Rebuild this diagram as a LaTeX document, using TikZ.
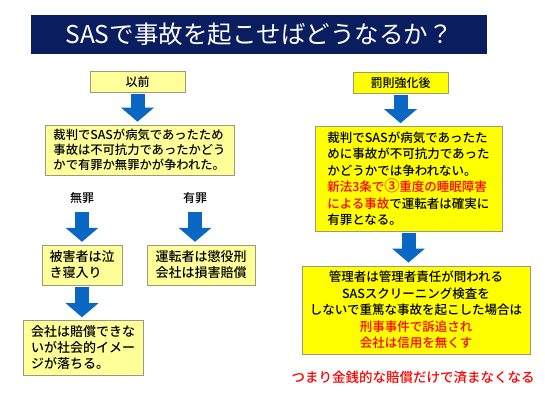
\documentclass[tikz,border=0pt]{standalone}
\usepackage{fontspec}
\setmainfont{Noto Sans CJK JP}[BoldFont={Noto Sans CJK JP Medium}]
\usepackage{xcolor}
\usepackage{tikz}
\usetikzlibrary{arrows.meta,positioning}

\definecolor{navybar}{HTML}{0A1E5F}
\definecolor{paleyel}{HTML}{FFFF99}
\definecolor{brightyel}{HTML}{FFFF00}
\definecolor{flowblue}{HTML}{0A68C4}
\definecolor{boxline}{HTML}{9A9A80}

\begin{document}
\begin{tikzpicture}[
    x=1pt, y=1pt,
    titlebar/.style={fill=navybar, text=white, minimum width=456pt, minimum height=39pt, font=\fontsize{24.5}{28}\selectfont},
    header/.style={draw=boxline, minimum width=95pt, minimum height=21pt, inner sep=1pt, font=\fontsize{12}{14}\selectfont\bfseries},
    pale/.style={draw=boxline, fill=paleyel, align=left, inner sep=2pt, font=\fontsize{13}{16}\selectfont\bfseries},
    bright/.style={draw=boxline, fill=brightyel, inner sep=2pt, font=\fontsize{12.5}{16.5}\selectfont\bfseries},
    verdict/.style={inner sep=1pt, font=\fontsize{12}{14}\selectfont\bfseries},
    bigarrow/.style={draw=flowblue, line width=14pt, -{Triangle[length=14pt, width=32pt]}, shorten <=1.5pt, shorten >=3pt}
  ]
    \useasboundingbox (0,0) rectangle (545,-408);
    \node[titlebar] (title) at (259,-34.5) {SASで事故を起こせばどうなるか？};

    % left: before
    \node[header, fill=paleyel] (before) at (137.5,-82) {以前};
    \node[pale, below=32pt of before, xshift=2pt, minimum width=189pt, minimum height=50pt,
          font=\fontsize{12.3}{15}\selectfont\bfseries] (trial)
      {裁判でSASが病気であったため\\事故は不可抗力であったかどう\\かで有罪か無罪かが争われた。};
    \node[verdict] (acquit) at (82,-198) {無罪};
    \node[verdict] (guilty) at (195,-198) {有罪};
    \node[pale, below=40pt of acquit, minimum width=80pt, minimum height=40pt] (victim) {被害者は泣\\き寝入り};
    \node[pale, below=40pt of guilty, xshift=6pt, minimum width=108pt, minimum height=40pt] (driver) {運転者は懲役刑\\会社は損害賠償};
    \node[pale, below=35pt of victim, xshift=1pt, minimum width=120pt, minimum height=55pt] (company)
      {会社は賠償できな\\いが社会的イメー\\ジが落ちる。};

    % right: after
    \node[header, fill=brightyel] (after) at (400.5,-82.5) {罰則強化後};
    \node[bright, align=left, below=33pt of after, xshift=8pt, minimum width=187pt, minimum height=105pt] (trialnew)
      {裁判でSASが病気であったた\\めに事故が不可抗力であった\\かどうかでは争われない。\\
       \textcolor{red}{新法3条で{\fontsize{15}{16.5}\selectfont ③}重度の睡眠障害}\\
       \textcolor{red}{による事故}で運転者は確実に\\有罪となる。};
    \node[bright, align=center, below=34pt of trialnew, xshift=7.5pt, minimum width=228pt, minimum height=88pt] (manager)
      {管理者は管理者責任が問われる\\SASスクリーニング検査を\\しないで重篤な事故を起こした場合は\\
       \textcolor{red}{刑事事件で訴追され}\\\textcolor{red}{会社は信用を無くす}};
    \node[text=red, inner sep=1pt, font=\fontsize{13.5}{16}\selectfont\bfseries, below=16pt of manager, xshift=-3pt] (summary)
      {つまり金銭的な賠償だけで済まなくなる};

    \draw[bigarrow] (before.south) -- (before.south |- trial.north);
    \draw[bigarrow, shorten <=7pt] (acquit.south) -- (acquit.south |- victim.north);
    \draw[bigarrow, shorten <=7pt] (guilty.south) -- (guilty.south |- driver.north);
    \draw[bigarrow] (victim.south) -- (victim.south |- company.north);
    \draw[bigarrow] (after.south) -- (after.south |- trialnew.north);
    \draw[bigarrow] (trialnew.south) -- (trialnew.south |- manager.north);
  \end{tikzpicture}
\end{document}
